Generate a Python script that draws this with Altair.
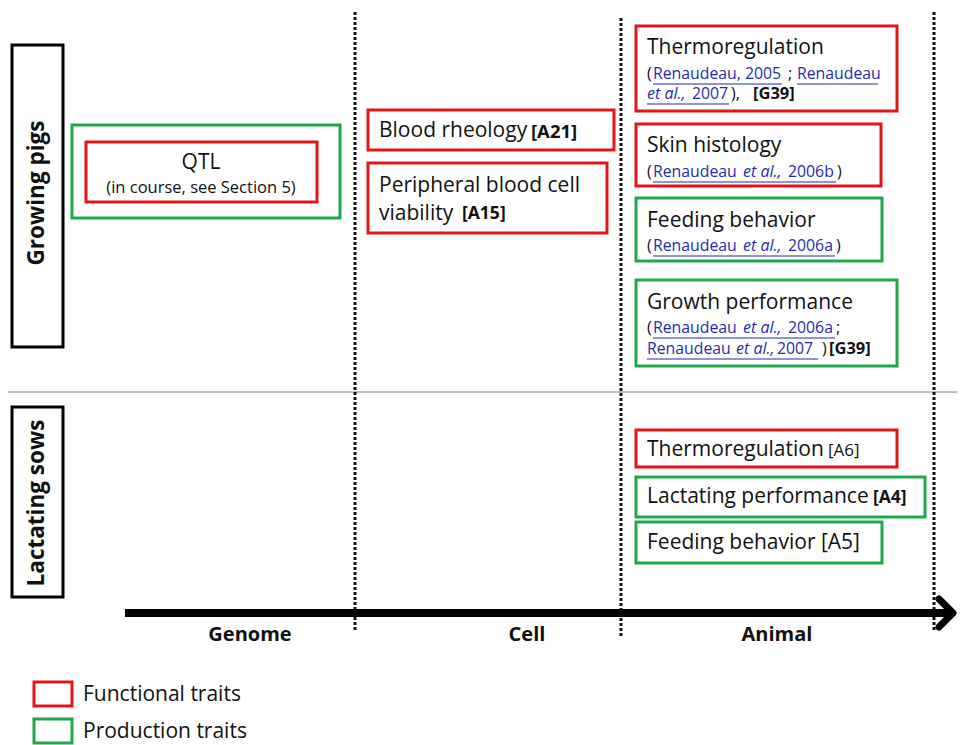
import altair as alt
import pandas as pd

# ---------------- data ----------------
# boxes (trait boxes, row-label boxes, legend swatches)
box_kind = ["row", "row", "production", "functional", "functional", "functional",
            "functional", "functional", "production", "production",
            "functional", "production", "production", "functional", "production"]
box_x1 = [12, 12, 72, 86, 368, 368, 636, 636, 636, 636, 636, 636, 636, 34, 34]
box_x2 = [63, 63, 340, 317, 614, 607, 897, 881, 882, 897, 897, 925, 882, 72, 72]
box_y1 = [45, 407, 125, 142, 110, 163, 26, 124, 198, 280, 430, 477, 522, 682, 719]
box_y2 = [347, 597, 218, 202, 150, 233, 111, 186, 261, 366, 467, 517, 563, 706, 743]

# dotted level separators
sep_x = [355, 621, 934]
sep_y1 = [12, 18, 12]
sep_y2 = [632, 637, 630]

# horizontal separator between the two animal groups
hline_y = [392]

# axis arrow
arrow_x1 = [125]
arrow_x2 = [950]
arrow_y = [613]
head_x = [939, 953, 939]
head_y = [599, 613, 627]
head_order = [0, 1, 2]

# text segments
seg_text = [
    "Blood rheology", "Peripheral blood cell", "viability", "Thermoregulation",
    "Skin histology", "Feeding behavior", "Growth performance", "Thermoregulation",
    "Lactating performance", "Feeding behavior [A5]",
    "[A21]",
    "[A15]", "[A4]",
    "[G39]", "[G39]",
    "[A6]",
    "(", ";", "),", "(", ")", "(", ")", "(", ";", ")",
    "Renaudeau, 2005", "Renaudeau", "2007", "Renaudeau", "2006b", "Renaudeau",
    "2006a", "Renaudeau", "2006a", "Renaudeau", "2007",
    "et al.,", "et al.,", "et al.,", "et al.,", "et al.,",
    "QTL", "(in course, see Section 5)",
    "Genome", "Cell", "Animal",
    "Growing pigs", "Lactating sows",
    "Functional traits", "Production traits",
]
seg_x = [
    379, 379, 379, 647, 647, 647, 647, 647, 647, 647,
    531,
    462, 873,
    753, 829,
    828,
    647, 788, 731, 647, 837, 647, 836, 647, 836, 822,
    653, 797, 692, 653, 788, 653, 788, 653, 788, 647, 777,
    647, 743, 743, 743, 736,
    201, 201,
    250, 527, 777,
    37, 37,
    83, 83,
]
seg_y = [
    131, 186, 214, 48, 146, 221, 303, 450, 497, 543,
    132,
    214, 498,
    94, 349,
    451,
    74, 74, 94, 172, 172, 246, 246, 328, 328, 349,
    74, 74, 94, 172, 172, 246, 246, 328, 328, 349, 349,
    94, 172, 246, 328, 349,
    163, 188,
    635, 635, 635,
    193, 503,
    695, 732,
]
seg_style = (
    ["main"] * 10 + ["refbig"] + ["refbold"] * 2 + ["refsmall"] * 2 + ["ref"]
    + ["sub"] * 10 + ["link"] * 11
    + ["linkit"] * 5 + ["ctr", "ctrsub"] + ["axis"] * 3 + ["row"] * 2 + ["legend"] * 2
)

# link underlines
ul_x1 = [653, 797, 647, 653, 653, 653, 647]
ul_x2 = [782, 878, 729, 836, 835, 835, 818]
ul_y = [84, 84, 104, 182, 256, 338, 359]

# ---------------- chart ----------------
W, H = 949, 737
xs = alt.Scale(domain=[8, 8 + W], nice=False, zero=False)
ys = alt.Scale(domain=[8, 8 + H], nice=False, zero=False, reverse=True)


def X(f):
    return alt.X(f, type="quantitative", scale=xs, axis=None)


def Y(f):
    return alt.Y(f, type="quantitative", scale=ys, axis=None)


RED = "#e3151b"
GREEN = "#1fa74c"
BLUE = "#1f2bb0"
INK = "#111111"
FONT = "Open Sans"

boxes = pd.DataFrame({"x1": box_x1, "x2": box_x2, "y1": box_y1, "y2": box_y2, "kind": box_kind})
box_layer = alt.Chart(boxes).mark_rect(fill="white", fillOpacity=0, strokeWidth=3).encode(
    x=X("x1"), x2=alt.X2("x2"), y=Y("y1"), y2=alt.Y2("y2"),
    stroke=alt.Stroke("kind:N", scale=alt.Scale(domain=["functional", "production", "row"],
                                                 range=[RED, GREEN, "#000000"]), legend=None),
)

seps = pd.DataFrame({"x": sep_x, "y1": sep_y1, "y2": sep_y2})
sep_layer = alt.Chart(seps).mark_rule(color=INK, strokeWidth=3, strokeDash=[3, 2]).encode(
    x=X("x"), y=Y("y1"), y2=alt.Y2("y2"))

hline = pd.DataFrame({"y": hline_y, "x1": [8], "x2": [8 + W]})
hline_layer = alt.Chart(hline).mark_rule(color="#6a849e", strokeWidth=1).encode(
    x=X("x1"), x2=alt.X2("x2"), y=Y("y"))

arrow = pd.DataFrame({"x1": arrow_x1, "x2": arrow_x2, "y": arrow_y})
arrow_layer = alt.Chart(arrow).mark_rule(color="#000000", strokeWidth=8).encode(
    x=X("x1"), x2=alt.X2("x2"), y=Y("y"))

head = pd.DataFrame({"x": head_x, "y": head_y, "o": head_order})
head_layer = alt.Chart(head).mark_line(color="#000000", strokeWidth=7, strokeJoin="round",
                                       strokeCap="round").encode(
    x=X("x"), y=Y("y"), order="o:Q")

ul = pd.DataFrame({"x1": ul_x1, "x2": ul_x2, "y": ul_y})
ul_layer = alt.Chart(ul).mark_rule(color=BLUE, strokeWidth=1.2).encode(
    x=X("x1"), x2=alt.X2("x2"), y=Y("y"))

segs = pd.DataFrame({"text": seg_text, "x": seg_x, "y": seg_y, "style": seg_style})

STYLES = {
    "main": dict(fontSize=21, color=INK, align="left"),
    "refbig": dict(fontSize=18.5, fontWeight="bold", color=INK, align="left"),
    "refbold": dict(fontSize=17.5, fontWeight="bold", color=INK, align="left"),
    "refsmall": dict(fontSize=16.5, fontWeight="bold", color=INK, align="left"),
    "ref": dict(fontSize=17, color=INK, align="left"),
    "sub": dict(fontSize=16, color=INK, align="left"),
    "link": dict(fontSize=15.8, color=BLUE, align="left"),
    "linkit": dict(fontSize=16, fontStyle="italic", color=BLUE, align="left"),
    "ctr": dict(fontSize=21, color=INK, align="center"),
    "ctrsub": dict(fontSize=16.5, color=INK, align="center"),
    "axis": dict(fontSize=20, fontWeight="bold", color=INK, align="center"),
    "row": dict(fontSize=22.5, fontWeight="bold", color=INK, align="center", angle=270),
    "legend": dict(fontSize=21, color=INK, align="left"),
}

text_layers = []
for name, st in STYLES.items():
    text_layers.append(
        alt.Chart(segs).transform_filter(alt.datum.style == name)
        .mark_text(font=FONT, baseline="middle", **st)
        .encode(x=X("x"), y=Y("y"), text="text:N")
    )

chart = alt.layer(
    hline_layer, sep_layer, arrow_layer, head_layer, box_layer, ul_layer, *text_layers
).properties(
    width=W, height=H, padding=0, autosize=alt.AutoSizeParams(type="none"),
    background="white",
).configure_view(stroke=None)

chart.save("out.html", embed_options={"renderer": "svg", "actions": False})
